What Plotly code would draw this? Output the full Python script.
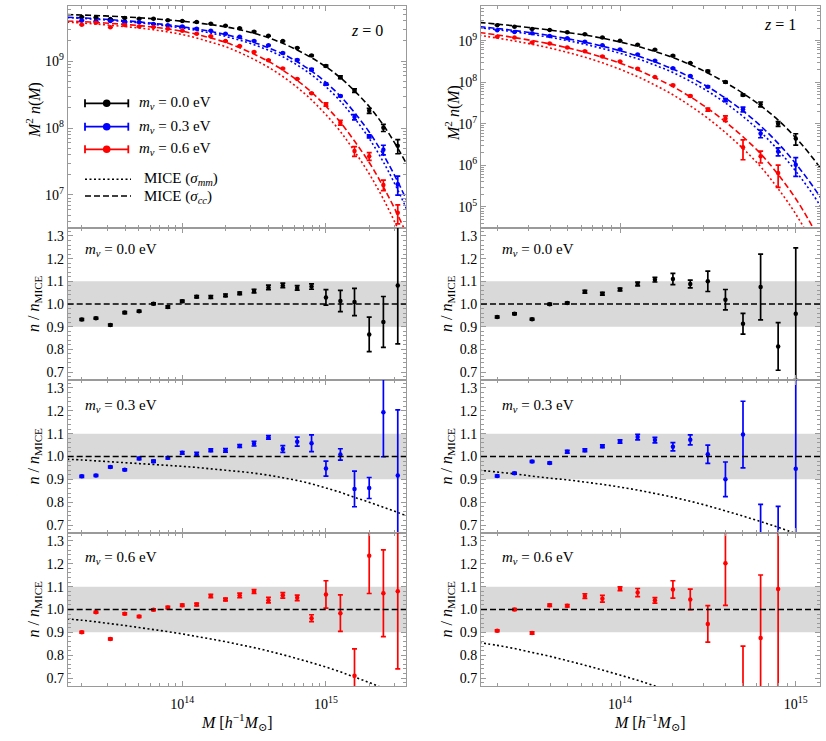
import plotly.graph_objects as go

# halo mass bins [h^-1 Msun]
mass_z0 = [2.00e13, 2.51e13, 3.16e13, 3.98e13, 5.01e13, 6.31e13, 7.94e13,
           1.00e14, 1.26e14, 1.58e14, 2.00e14, 2.51e14, 3.16e14, 3.98e14,
           5.01e14, 6.31e14, 7.94e14, 1.00e15, 1.26e15, 1.58e15, 2.00e15,
           2.51e15, 3.16e15]
mass_z1 = [2.00e13, 2.51e13, 3.16e13, 3.98e13, 5.01e13, 6.31e13, 7.94e13,
           1.00e14, 1.26e14, 1.58e14, 2.00e14, 2.51e14, 3.16e14, 3.98e14,
           5.01e14, 6.31e14, 7.94e14, 1.00e15]

# mass grid for the MICE fits
curve_mass_z0 = [1.58e13, 2.00e13, 2.51e13, 3.16e13, 3.98e13, 5.01e13, 6.31e13,
                 7.94e13, 1.00e14, 1.26e14, 1.58e14, 2.00e14, 2.51e14, 3.16e14,
                 3.98e14, 5.01e14, 6.31e14, 7.94e14, 1.00e15, 1.26e15, 1.58e15,
                 2.00e15, 2.51e15, 3.16e15, 3.98e15]
curve_mass_z1 = [1.58e13, 2.00e13, 2.51e13, 3.16e13, 3.98e13, 5.01e13, 6.31e13,
                 7.94e13, 1.00e14, 1.26e14, 1.58e14, 2.00e14, 2.51e14, 3.16e14,
                 3.98e14, 5.01e14, 6.31e14, 7.94e14, 1.00e15, 1.26e15, 1.58e15]

# M^2 n(M), simulations, z = 0
n_black_z0 = [4.54e9, 4.49e9, 4.26e9, 4.40e9, 4.30e9, 4.29e9, 4.06e9, 3.98e9, 3.85e9,
              3.61e9, 3.37e9, 3.09e9, 2.75e9, 2.39e9, 1.99e9, 1.57e9, 1.21e9, 8.45e8,
              5.73e8, 3.62e8, 1.81e8, 1.01e8, 5.42e7]
n_blue_z0 = [4.03e9, 3.94e9, 3.97e9, 3.78e9, 3.81e9, 3.59e9, 3.44e9, 3.30e9, 3.05e9,
             2.84e9, 2.56e9, 2.31e9, 2.00e9, 1.72e9, 1.32e9, 1.04e9, 7.48e8, 4.53e8,
             3.01e8, 1.46e8, 7.50e7, 4.75e7, 1.45e7]
n_red_z0 = [3.50e9, 3.74e9, 3.19e9, 3.47e9, 3.28e9, 3.22e9, 3.05e9, 2.84e9, 2.56e9,
            2.34e9, 1.99e9, 1.68e9, 1.37e9, 1.03e9, 7.78e8, 5.42e8, 3.30e8, 2.25e8,
            1.20e8, 4.53e7, 3.78e7, 1.41e7, 5.41e6]

# M^2 n(M), simulations, z = 1
n_black_z1 = [2.37e9, 2.18e9, 1.91e9, 1.81e9, 1.59e9, 1.44e9, 1.20e9, 9.93e8, 7.98e8,
              6.08e8, 4.37e8, 2.90e8, 1.85e8, 1.01e8, 4.95e7, 2.96e7, 1.00e7, 4.43e6]
n_blue_z1 = [1.80e9, 1.63e9, 1.51e9, 1.30e9, 1.15e9, 9.48e8, 7.74e8, 6.14e8, 4.68e8,
             3.31e8, 2.18e8, 1.42e8, 7.83e7, 3.75e7, 2.24e7, 5.83e6, 2.17e6, 1.04e6]
n_red_z1 = [1.25e9, 1.19e9, 9.08e8, 8.57e8, 6.90e8, 5.62e8, 4.19e8, 3.15e8, 2.13e8,
            1.34e8, 8.55e7, 4.67e7, 2.20e7, 1.35e7, 2.74e6, 1.67e6, 6.56e5]

# MICE fits, z = 0 (cc = sigma_cc, mm = sigma_mm)
cc_black_z0 = [4.95e9, 4.88e9, 4.79e9, 4.69e9, 4.57e9, 4.44e9, 4.29e9, 4.12e9, 3.94e9,
               3.73e9, 3.51e9, 3.25e9, 2.95e9, 2.60e9, 2.23e9, 1.84e9, 1.46e9, 1.12e9,
               8.22e8, 5.65e8, 3.59e8, 2.09e8, 1.10e8, 5.01e7, 2.00e7]
cc_blue_z0 = [4.52e9, 4.42e9, 4.30e9, 4.16e9, 4.01e9, 3.85e9, 3.66e9, 3.47e9, 3.25e9,
              3.02e9, 2.77e9, 2.49e9, 2.20e9, 1.90e9, 1.58e9, 1.28e9, 9.77e8, 7.08e8,
              4.79e8, 2.99e8, 1.70e8, 8.71e7, 3.98e7, 1.58e7, 5.50e6]
mm_blue_z0 = [4.47e9, 4.35e9, 4.22e9, 4.06e9, 3.90e9, 3.73e9, 3.53e9, 3.33e9, 3.11e9,
              2.88e9, 2.62e9, 2.34e9, 2.05e9, 1.76e9, 1.45e9, 1.16e9, 8.74e8, 6.23e8,
              4.13e8, 2.52e8, 1.40e8, 6.97e7, 3.10e7, 1.19e7, 4.00e6]
cc_red_z0 = [3.98e9, 3.89e9, 3.78e9, 3.66e9, 3.53e9, 3.39e9, 3.22e9, 3.02e9, 2.79e9,
             2.51e9, 2.21e9, 1.91e9, 1.58e9, 1.27e9, 9.89e8, 7.33e8, 5.15e8, 3.43e8,
             2.11e8, 1.22e8, 6.38e7, 3.05e7, 1.32e7, 5.01e6, 1.70e6]
mm_red_z0 = [3.82e9, 3.71e9, 3.58e9, 3.43e9, 3.28e9, 3.12e9, 2.94e9, 2.73e9, 2.49e9,
             2.21e9, 1.92e9, 1.64e9, 1.34e9, 1.06e9, 8.09e8, 5.88e8, 4.04e8, 2.63e8,
             1.58e8, 8.87e7, 4.49e7, 2.07e7, 8.65e6, 3.15e6, 1.02e6]

# MICE fits, z = 1
cc_black_z1 = [2.75e9, 2.51e9, 2.28e9, 2.04e9, 1.81e9, 1.58e9, 1.37e9, 1.15e9, 9.33e8,
               7.33e8, 5.50e8, 3.94e8, 2.66e8, 1.68e8, 9.89e7, 5.43e7, 2.75e7, 1.23e7,
               4.62e6, 1.45e6, 3.80e5]
cc_blue_z1 = [2.19e9, 1.97e9, 1.76e9, 1.55e9, 1.33e9, 1.12e9, 9.23e8, 7.41e8, 5.75e8,
              4.32e8, 3.09e8, 2.09e8, 1.32e8, 7.76e7, 4.17e7, 2.04e7, 8.91e6, 3.39e6,
              1.10e6, 3.02e5, 7.08e4]
mm_blue_z1 = [2.06e9, 1.84e9, 1.63e9, 1.42e9, 1.21e9, 1.01e9, 8.18e8, 6.50e8, 4.99e8,
              3.68e8, 2.59e8, 1.72e8, 1.06e8, 6.08e7, 3.18e7, 1.51e7, 6.37e6, 2.34e6,
              7.28e5, 1.92e5, 4.30e4]
cc_red_z1 = [1.58e9, 1.38e9, 1.19e9, 1.01e9, 8.41e8, 6.79e8, 5.31e8, 4.00e8, 2.88e8,
             1.98e8, 1.29e8, 7.85e7, 4.47e7, 2.34e7, 1.12e7, 4.90e6, 1.91e6, 6.03e5,
             1.58e5, 3.02e4, 4.00e3]
mm_red_z1 = [1.36e9, 1.16e9, 9.86e8, 8.22e8, 6.68e8, 5.27e8, 4.02e8, 2.94e8, 2.06e8,
             1.37e8, 8.57e7, 5.01e7, 2.72e7, 1.36e7, 6.17e6, 2.54e6, 9.33e5, 2.75e5,
             6.76e4, 1.20e4, 1.50e3]

# n / n_MICE and errors, z = 0
ratio_black_z0 = [0.932, 0.937, 0.907, 0.962, 0.968, 1.001, 0.987, 1.012, 1.032, 1.031,
                  1.038, 1.047, 1.057, 1.073, 1.082, 1.071, 1.077, 1.029, 1.013, 1.009,
                  0.866, 0.921, 1.082]
err_black_z0 = [0.004, 0.004, 0.004, 0.004, 0.004, 0.004, 0.005, 0.005, 0.005, 0.006,
                0.006, 0.006, 0.008, 0.010, 0.010, 0.010, 0.012, 0.034, 0.047, 0.060,
                0.076, 0.112, 0.258]
ratio_blue_z0 = [0.913, 0.917, 0.954, 0.942, 0.991, 0.979, 0.994, 1.016, 1.010, 1.027,
                 1.027, 1.046, 1.056, 1.084, 1.033, 1.065, 1.058, 0.947, 1.009, 0.858,
                 0.862, 1.194, 0.917]
err_blue_z0 = [0.004, 0.004, 0.004, 0.004, 0.005, 0.005, 0.005, 0.006, 0.008, 0.006,
               0.008, 0.006, 0.010, 0.008, 0.015, 0.020, 0.037, 0.033, 0.025, 0.078,
               0.046, 0.195, 0.287]
ratio_red_z0 = [0.900, 0.988, 0.871, 0.981, 0.969, 0.999, 1.009, 1.019, 1.022, 1.059,
                1.044, 1.062, 1.079, 1.041, 1.062, 1.051, 0.962, 1.066, 0.984, 0.710,
                1.235, 1.071, 1.080]
err_red_z0 = [0.004, 0.004, 0.004, 0.004, 0.004, 0.004, 0.005, 0.005, 0.006, 0.007,
              0.006, 0.010, 0.008, 0.012, 0.012, 0.012, 0.015, 0.060, 0.080, 0.118,
              0.165, 0.190, 0.340]

# n / n_MICE and errors, z = 1
ratio_black_z1 = [0.943, 0.957, 0.933, 0.999, 1.004, 1.054, 1.045, 1.064, 1.088, 1.107,
                  1.110, 1.088, 1.100, 1.019, 0.913, 1.075, 0.813, 0.957]
err_black_z1 = [0.004, 0.004, 0.004, 0.004, 0.004, 0.006, 0.006, 0.006, 0.008, 0.010,
                0.025, 0.017, 0.045, 0.045, 0.046, 0.145, 0.105, 0.290]
ratio_blue_z1 = [0.915, 0.927, 0.978, 0.972, 1.021, 1.027, 1.045, 1.066, 1.085, 1.072,
                 1.043, 1.073, 1.010, 0.900, 1.096, 0.655, 0.640, 0.946]
err_blue_z1 = [0.004, 0.004, 0.004, 0.004, 0.006, 0.006, 0.006, 0.007, 0.012, 0.012,
               0.018, 0.022, 0.040, 0.076, 0.146, 0.135, 0.142, 0.450]
ratio_red_z1 = [0.907, 1.000, 0.897, 1.019, 1.016, 1.059, 1.047, 1.091, 1.074, 1.040,
                1.088, 1.044, 0.937, 1.203, 0.560, 0.875, 1.090]
err_red_z1 = [0.004, 0.004, 0.005, 0.005, 0.005, 0.010, 0.015, 0.008, 0.018, 0.012,
              0.038, 0.045, 0.080, 0.185, 0.280, 0.276, 0.600]

# sigma_mm fit relative to sigma_cc fit
mm_ratio_blue_z0 = [0.988, 0.985, 0.981, 0.977, 0.973, 0.969, 0.965, 0.961, 0.957, 0.952,
                    0.946, 0.940, 0.934, 0.927, 0.918, 0.907, 0.895, 0.880, 0.862, 0.843,
                    0.821, 0.800, 0.778, 0.755, 0.730]
mm_ratio_red_z0 = [0.959, 0.953, 0.946, 0.938, 0.930, 0.921, 0.912, 0.903, 0.893, 0.882,
                   0.871, 0.859, 0.846, 0.833, 0.818, 0.802, 0.785, 0.767, 0.748, 0.727,
                   0.704, 0.680, 0.655, 0.628, 0.600]
mm_ratio_blue_z1 = [0.940, 0.932, 0.924, 0.914, 0.905, 0.898, 0.888, 0.878, 0.866, 0.853,
                    0.838, 0.822, 0.804, 0.784, 0.762, 0.739, 0.715, 0.690, 0.663, 0.635,
                    0.605]
mm_ratio_red_z1 = [0.855, 0.843, 0.829, 0.812, 0.795, 0.776, 0.756, 0.735, 0.713, 0.690,
                   0.665, 0.638, 0.610, 0.580, 0.550, 0.520, 0.490, 0.460, 0.430, 0.400,
                   0.370]

mass_labels = ["0.0", "0.3", "0.6"]
x_tick_labels = ["10<sup>14</sup>", "10<sup>15</sup>"]

W, H = 826, 741
FONT = "Liberation Serif, Times New Roman, DejaVu Serif, serif"
BLACK, BLUE, RED = "#000000", "#0000ff", "#ff0000"
FRAME = "#9a9a9a"
DASH = "6px,3px"
DOT = "2px,2.5px"

col_px = [(67.7, 406.0), (481.0, 820.0)]
row_px = [(6, 228), (228, 380), (380, 533), (533, 686)]
x_ranges = [[13.203, 15.557], [13.209, 15.138]]
top_y_ranges = [[6.506, 9.823], [4.494, 9.836]]


def fx(px):
    return px / W


def fy(py):
    return 1 - py / H


def ax(k):
    return ("x" if k == 1 else f"x{k}"), ("y" if k == 1 else f"y{k}")


fig = go.Figure()


def add_curve(k, xs, ys, color, dash):
    xa, ya = ax(k)
    fig.add_trace(go.Scatter(x=xs, y=ys, mode="lines", xaxis=xa, yaxis=ya,
                             line=dict(color=color, width=1.6, dash=dash, shape="spline"),
                             showlegend=False, hoverinfo="skip"))


def add_points(k, xs, ys, errs, color):
    xa, ya = ax(k)
    fig.add_trace(go.Scatter(x=xs, y=ys, mode="markers", xaxis=xa, yaxis=ya,
                             marker=dict(color=color, size=4.5),
                             error_y=dict(type="data", array=errs, color=color,
                                          thickness=1.7, width=2.5),
                             showlegend=False))


# top panels: mass functions
sets = [
    (1, mass_z0, curve_mass_z0,
     [(BLACK, n_black_z0, ratio_black_z0, err_black_z0, cc_black_z0, None),
      (BLUE, n_blue_z0, ratio_blue_z0, err_blue_z0, cc_blue_z0, mm_blue_z0),
      (RED, n_red_z0, ratio_red_z0, err_red_z0, cc_red_z0, mm_red_z0)]),
    (2, mass_z1, curve_mass_z1,
     [(BLACK, n_black_z1, ratio_black_z1, err_black_z1, cc_black_z1, None),
      (BLUE, n_blue_z1, ratio_blue_z1, err_blue_z1, cc_blue_z1, mm_blue_z1),
      (RED, n_red_z1, ratio_red_z1, err_red_z1, cc_red_z1, mm_red_z1)]),
]
for k, masses, cmass, series in sets:
    for color, n, ratio, err, cc, mm in series:
        if mm is not None:
            add_curve(k, cmass, mm, color, DOT)
        add_curve(k, cmass, cc, color, DASH)
    for color, n, ratio, err, cc, mm in series:
        # same relative error as in the ratio panels
        abs_err = [v * e / r for v, e, r in zip(n, err, ratio)]
        add_points(k, masses[:len(n)], n, abs_err, color)

# ratio panels
ratio_sets = [
    (3, mass_z0, curve_mass_z0, BLACK, ratio_black_z0, err_black_z0, None),
    (4, mass_z1, curve_mass_z1, BLACK, ratio_black_z1, err_black_z1, None),
    (5, mass_z0, curve_mass_z0, BLUE, ratio_blue_z0, err_blue_z0, mm_ratio_blue_z0),
    (6, mass_z1, curve_mass_z1, BLUE, ratio_blue_z1, err_blue_z1, mm_ratio_blue_z1),
    (7, mass_z0, curve_mass_z0, RED, ratio_red_z0, err_red_z0, mm_ratio_red_z0),
    (8, mass_z1, curve_mass_z1, RED, ratio_red_z1, err_red_z1, mm_ratio_red_z1),
]
shapes = []
for k, masses, cmass, color, ratio, err, mmr in ratio_sets:
    xa, ya = ax(k)
    shapes.append(dict(type="rect", xref=f"{xa} domain", yref=ya, x0=0, x1=1,
                       y0=0.9, y1=1.1, fillcolor="#d9d9d9", line=dict(width=0),
                       layer="below"))
    shapes.append(dict(type="line", xref=f"{xa} domain", yref=ya, x0=0, x1=1,
                       y0=1.0, y1=1.0, line=dict(color=BLACK, width=1.5, dash=DASH)))
    if mmr is not None:
        add_curve(k, cmass, mmr, BLACK, DOT)
    add_points(k, masses[:len(ratio)], ratio, err, color)

# axes
minor_x = [m * 10 ** e for e in (13, 14, 15) for m in range(2, 10)]
layout_axes = {}
for k in range(1, 9):
    r, c = (k - 1) // 2, (k - 1) % 2
    xa, ya = ax(k)
    xkey = "xaxis" if k == 1 else f"xaxis{k}"
    ykey = "yaxis" if k == 1 else f"yaxis{k}"
    common = dict(showline=True, linecolor=FRAME, linewidth=1, mirror="ticks",
                  ticks="inside", tickcolor=FRAME, ticklen=5, showgrid=False,
                  zeroline=False, tickfont=dict(family=FONT, size=14, color=BLACK))
    layout_axes[xkey] = dict(
        common, type="log", range=x_ranges[c], anchor=ya,
        domain=[fx(col_px[c][0]), fx(col_px[c][1])],
        tickmode="array", tickvals=[1e14, 1e15], ticktext=x_tick_labels,
        showticklabels=(r == 3), ticklabelstandoff=5,
        minor=dict(tickmode="array", tickvals=minor_x, ticks="inside",
                   ticklen=3, tickcolor=FRAME))
    ydom = [fy(row_px[r][1]), fy(row_px[r][0])]
    if r == 0:
        lo, hi = top_y_ranges[c]
        exps = [e for e in range(4, 11) if lo <= e <= hi]
        minor_y = [m * 10 ** e for e in range(4, 10) for m in range(2, 10)]
        layout_axes[ykey] = dict(
            common, type="log", range=top_y_ranges[c], anchor=xa, domain=ydom,
            tickmode="array", tickvals=[10 ** e for e in exps],
            ticktext=[f"10<sup>{e}</sup>" for e in exps],
            minor=dict(tickmode="array", tickvals=minor_y, ticks="inside",
                       ticklen=3, tickcolor=FRAME))
    else:
        layout_axes[ykey] = dict(
            common, range=[0.665, 1.335], anchor=xa, domain=ydom,
            tickmode="array", tickvals=[0.7, 0.8, 0.9, 1.0, 1.1, 1.2, 1.3],
            ticktext=["0.7", "0.8", "0.9", "1.0", "1.1", "1.2", "1.3"],
            minor=dict(dtick=0.02, tick0=0.0, ticks="inside", ticklen=3,
                       tickcolor=FRAME))

# text
tfont = dict(family=FONT, size=15, color=BLACK)
annotations = []


def note(px, py, text, xanchor="left", size=15, angle=0):
    annotations.append(dict(x=fx(px), y=fy(py), xref="paper", yref="paper",
                            text=text, showarrow=False, xanchor=xanchor,
                            yanchor="middle", textangle=angle,
                            font=dict(family=FONT, size=size, color=BLACK)))


note(367, 31, "<i>z</i> = 0", xanchor="center", size=16)
note(780, 25, "<i>z</i> = 1", xanchor="center", size=16)

mnu_y = [250, 406, 558]
for i, lab in enumerate(mass_labels):
    note(83, mnu_y[i], f"<i>m</i><sub><i>ν</i></sub> = {lab} eV")
    note(500, mnu_y[i], f"<i>m</i><sub><i>ν</i></sub> = {lab} eV")

note(33, 110, "<i>M</i><sup>2</sup> <i>n</i>(<i>M</i>)", xanchor="center", size=16, angle=-90)
note(452, 113, "<i>M</i><sup>2</sup> <i>n</i>(<i>M</i>)", xanchor="center", size=16, angle=-90)
for r in range(1, 4):
    yc = (row_px[r][0] + row_px[r][1]) / 2
    note(34, yc, "<i>n</i> / <i>n</i><sub>MICE</sub>", xanchor="center", size=16, angle=-90)
    note(447, yc, "<i>n</i> / <i>n</i><sub>MICE</sub>", xanchor="center", size=16, angle=-90)

xtitle = "<i>M</i> [<i>h</i><sup>−1</sup><i>M</i><sub>⊙</sub>]"
note(237, 722, xtitle, xanchor="center", size=16)
note(650, 722, xtitle, xanchor="center", size=16)

# legend (top-left panel)
leg_rows = [(103.3, BLACK), (126.7, BLUE), (149.3, RED)]
for (yy, col), lab in zip(leg_rows, mass_labels):
    shapes.append(dict(type="line", xref="paper", yref="paper", x0=fx(85), x1=fx(128.3),
                       y0=fy(yy), y1=fy(yy), line=dict(color=col, width=1.8)))
    for xe in (85, 128.3):
        shapes.append(dict(type="line", xref="paper", yref="paper", x0=fx(xe), x1=fx(xe),
                           y0=fy(yy - 4), y1=fy(yy + 4), line=dict(color=col, width=1.8)))
    shapes.append(dict(type="circle", xref="paper", yref="paper",
                       x0=fx(106.7 - 3.8), x1=fx(106.7 + 3.8),
                       y0=fy(yy + 3.8), y1=fy(yy - 3.8),
                       fillcolor=col, line=dict(color=col, width=0)))
    note(137, yy, f"<i>m</i><sub><i>ν</i></sub> = {lab} eV")

shapes.append(dict(type="line", xref="paper", yref="paper", x0=fx(85), x1=fx(131),
                   y0=fy(179.3), y1=fy(179.3), line=dict(color=BLACK, width=1.4, dash=DOT)))
shapes.append(dict(type="line", xref="paper", yref="paper", x0=fx(85), x1=fx(131),
                   y0=fy(196), y1=fy(196), line=dict(color=BLACK, width=1.4, dash=DASH)))
note(141.7, 179.3, "MICE (<i>σ</i><sub><i>mm</i></sub>)")
note(141.7, 197, "MICE (<i>σ</i><sub><i>cc</i></sub>)")

fig.update_layout(
    width=W, height=H,
    margin=dict(l=0, r=0, t=0, b=0),
    paper_bgcolor="white", plot_bgcolor="white",
    showlegend=False,
    shapes=shapes, annotations=annotations,
    font=tfont,
    **layout_axes,
)

# the page's default body margin would shift the whole figure
fig.write_html("out.html", config={"displayModeBar": False},
               post_script="document.body.style.margin='0';"
                           "document.body.style.overflow='hidden';")
